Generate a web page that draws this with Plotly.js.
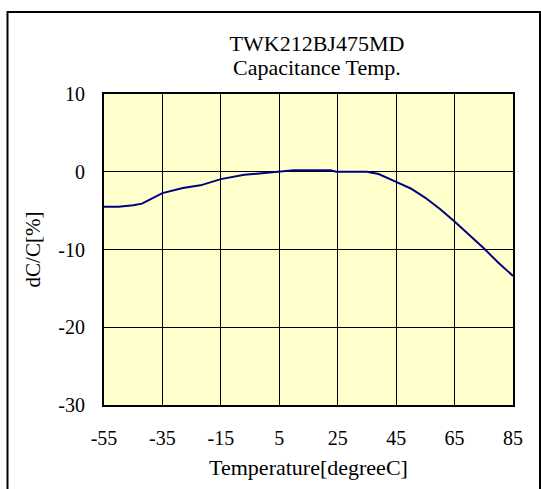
<!DOCTYPE html>
<html>
<head>
<meta charset="utf-8">
<script src="https://cdn.plot.ly/plotly-3.0.1.min.js"></script>
<style>html,body{margin:0;padding:0;background:#fff;}#chart{width:541px;height:489px;}</style>
</head>
<body>
<div id="chart"></div>
<script>
const temperature = [-55, -50, -45, -42, -40, -35, -28, -22, -15, -10, -7, -1, 5, 10, 22.5, 24.5, 35, 39, 45, 50, 55, 60, 65, 70, 75, 80, 85];
const dCC = [-4.5, -4.5, -4.3, -4.1, -3.7, -2.75, -2.1, -1.75, -0.95, -0.65, -0.4, -0.2, 0, 0.2, 0.2, 0, 0, -0.3, -1.3, -2.15, -3.35, -4.8, -6.4, -8.1, -9.85, -11.7, -13.4];
const xTicks = [-55, -35, -15, 5, 25, 45, 65, 85];
const yTicks = [-30, -20, -10, 0, 10];
const titleLines = ['TWK212BJ475MD', 'Capacitance Temp.'];

const fam = 'Liberation Serif, Times New Roman, serif';
const tickFont = {family: fam, size: 20, color: '#000'};
const titleFont = {family: fam, size: 22, color: '#000'};

const trace = {
  x: temperature, y: dCC, type: 'scatter', mode: 'lines',
  line: {color: '#000080', width: 2}, hoverinfo: 'skip'
};

const layout = {
  width: 541, height: 489,
  margin: {l: 104, r: 28, t: 94, b: 84},
  paper_bgcolor: '#ffffff',
  plot_bgcolor: '#ffffcc',
  showlegend: false,
  font: tickFont,
  title: {
    text: titleLines[0],
    font: titleFont,
    xref: 'container', x: 317/541, xanchor: 'center',
    yref: 'container', y: 1 - 43/489, yanchor: 'middle'
  },
  annotations: [{
    text: titleLines[1], font: titleFont, showarrow: false,
    xref: 'paper', x: (317 - 104) / 409, xanchor: 'center',
    yref: 'paper', y: (405 - 68) / 311, yanchor: 'middle'
  }],
  xaxis: {
    range: [-55, 85], tickvals: xTicks, ticktext: xTicks.map(String),
    showgrid: true, gridcolor: '#000', gridwidth: 1,
    showline: true, linecolor: '#000', linewidth: 2, mirror: true,
    zeroline: false,
    ticks: 'outside', ticklen: 14, tickcolor: 'rgba(0,0,0,0)',
    tickfont: tickFont,
    title: {text: 'Temperature[degreeC]', font: titleFont, standoff: 12}
  },
  yaxis: {
    range: [-30, 10], tickvals: yTicks, ticktext: yTicks.map(String),
    showgrid: true, gridcolor: '#000', gridwidth: 1,
    showline: true, linecolor: '#000', linewidth: 2, mirror: true,
    zeroline: false,
    ticks: 'outside', ticklen: 13, tickcolor: 'rgba(0,0,0,0)',
    tickfont: tickFont,
    title: {text: 'dC/C[%]', font: {family: fam, size: 21, color: '#000'}, standoff: 12}
  },
  shapes: [{
    type: 'rect', xref: 'paper', yref: 'paper',
    x0: (7.5 - 104) / 409, x1: (540 - 104) / 409,
    y0: (405 - 500) / 311, y1: (405 - 12) / 311,
    line: {color: '#000', width: 2}, fillcolor: 'rgba(0,0,0,0)', layer: 'above'
  }]
};

Plotly.newPlot('chart', [trace], layout, {displayModeBar: false, staticPlot: true});
</script>
</body>
</html>
